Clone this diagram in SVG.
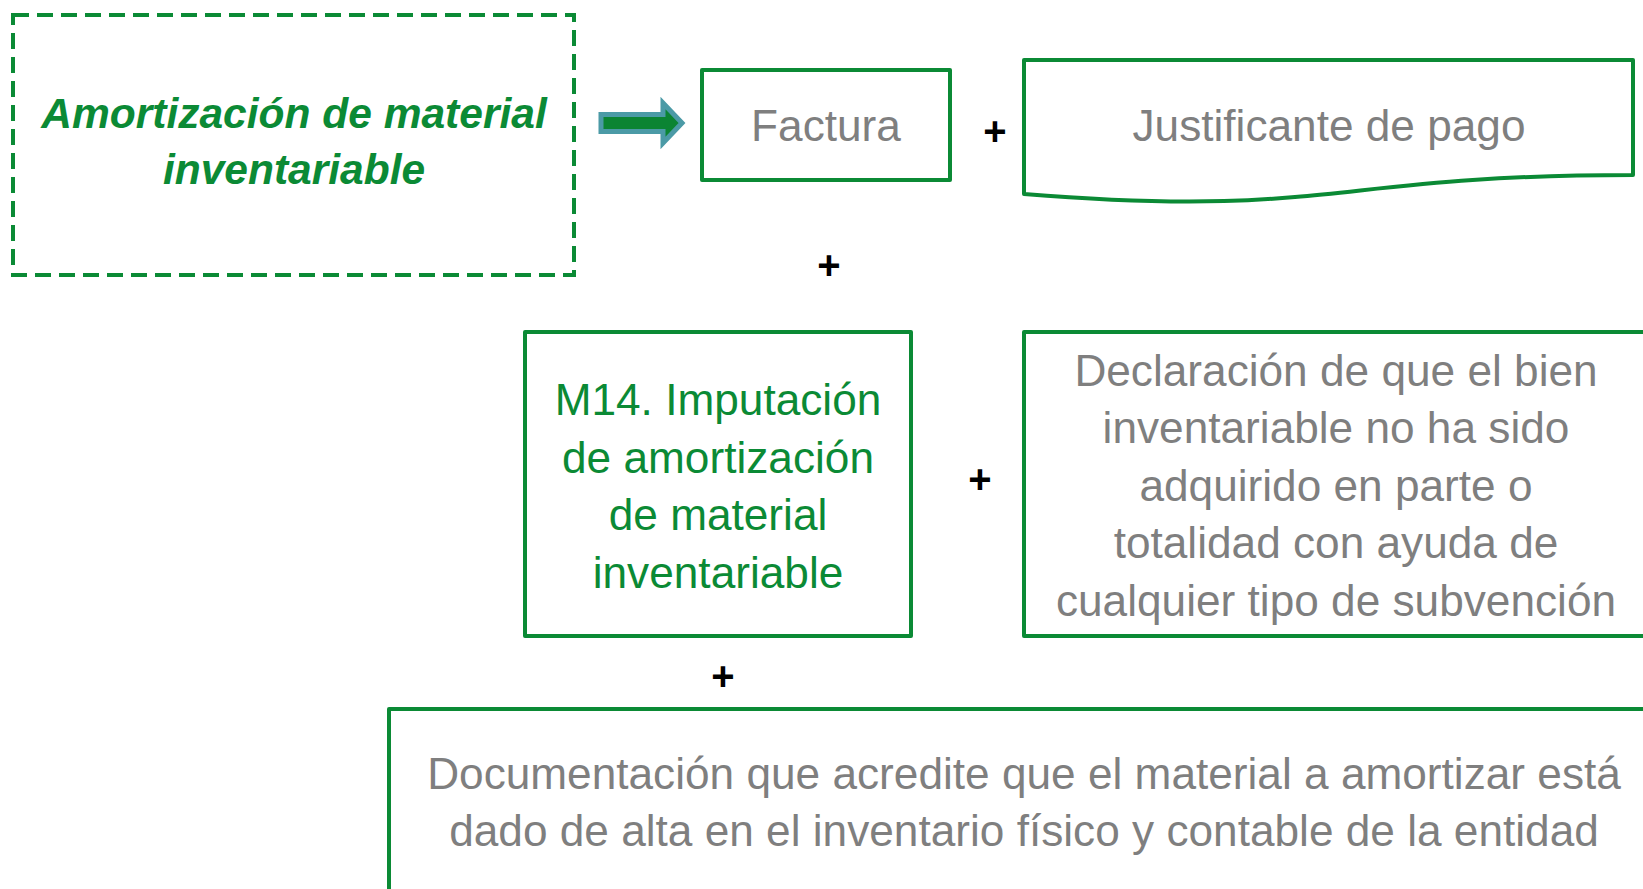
<svg xmlns="http://www.w3.org/2000/svg" width="1643" height="889" viewBox="0 0 1643 889">
<style>
.box{fill:#ffffff;stroke:#0b8a35;stroke-width:4;stroke-linejoin:round}
.dash{fill:none;stroke:#0b8a35;stroke-width:4;stroke-dasharray:16 8}
.t{font-family:"Liberation Sans",Arial,sans-serif;font-size:44.2px;text-anchor:middle;fill:#7f7f7f}
.g{fill:#0b8a35}
.title{font-family:"Liberation Sans",Arial,sans-serif;font-size:42.5px;font-weight:bold;font-style:italic;text-anchor:middle;fill:#0b8a35}
.plus{font-family:"Liberation Sans",Arial,sans-serif;font-size:40px;font-weight:bold;text-anchor:middle;fill:#000000}
</style>
<rect width="1643" height="889" fill="#ffffff"/>
<g id="amortizacion">
<rect class="dash" x="13" y="15" width="561" height="260"/>
<text class="title" x="294" y="128">Amortización de material</text>
<text class="title" x="294" y="184">inventariable</text>
</g>
<g id="connectors">
<polygon points="601,114.5 663,114.5 663,103 682,123 663,143 663,131.5 601,131.5" fill="#0b8433" stroke="#4b9aa6" stroke-width="5"/>
</g>
<g id="factura">
<rect class="box" x="702" y="70" width="248" height="110"/>
<text class="t" x="826" y="141">Factura</text>
</g>
<g id="justificante">
<path class="box" d="M1024,60 L1633,60 L1633,175 C1328.5,175 1328.5,218.8 1024,194 Z"/>
<text class="t" x="1329" y="141">Justificante de pago</text>
</g>
<g id="m14">
<rect class="box" x="525" y="332" width="386" height="304"/>
<text class="t g" x="718" y="415">M14. Imputación</text>
<text class="t g" x="718" y="472.5">de amortización</text>
<text class="t g" x="718" y="530">de material</text>
<text class="t g" x="718" y="587.5">inventariable</text>
</g>
<g id="declaracion">
<rect class="box" x="1024" y="332" width="700" height="304"/>
<text class="t" x="1336" y="386">Declaración de que el bien</text>
<text class="t" x="1336" y="443">inventariable no ha sido</text>
<text class="t" x="1336" y="501">adquirido en parte o</text>
<text class="t" x="1336" y="558">totalidad con ayuda de</text>
<text class="t" x="1336" y="616">cualquier tipo de subvención</text>
</g>
<g id="documentacion">
<rect class="box" x="389" y="709" width="1400" height="300"/>
<text class="t" x="1024" y="789">Documentación que acredite que el material a amortizar está</text>
<text class="t" x="1024" y="846">dado de alta en el inventario físico y contable de la entidad</text>
</g>
<g id="plus-signs">
<text class="plus" x="995" y="145">+</text>
<text class="plus" x="829" y="279">+</text>
<text class="plus" x="980" y="493">+</text>
<text class="plus" x="723" y="690">+</text>
</g>
</svg>
